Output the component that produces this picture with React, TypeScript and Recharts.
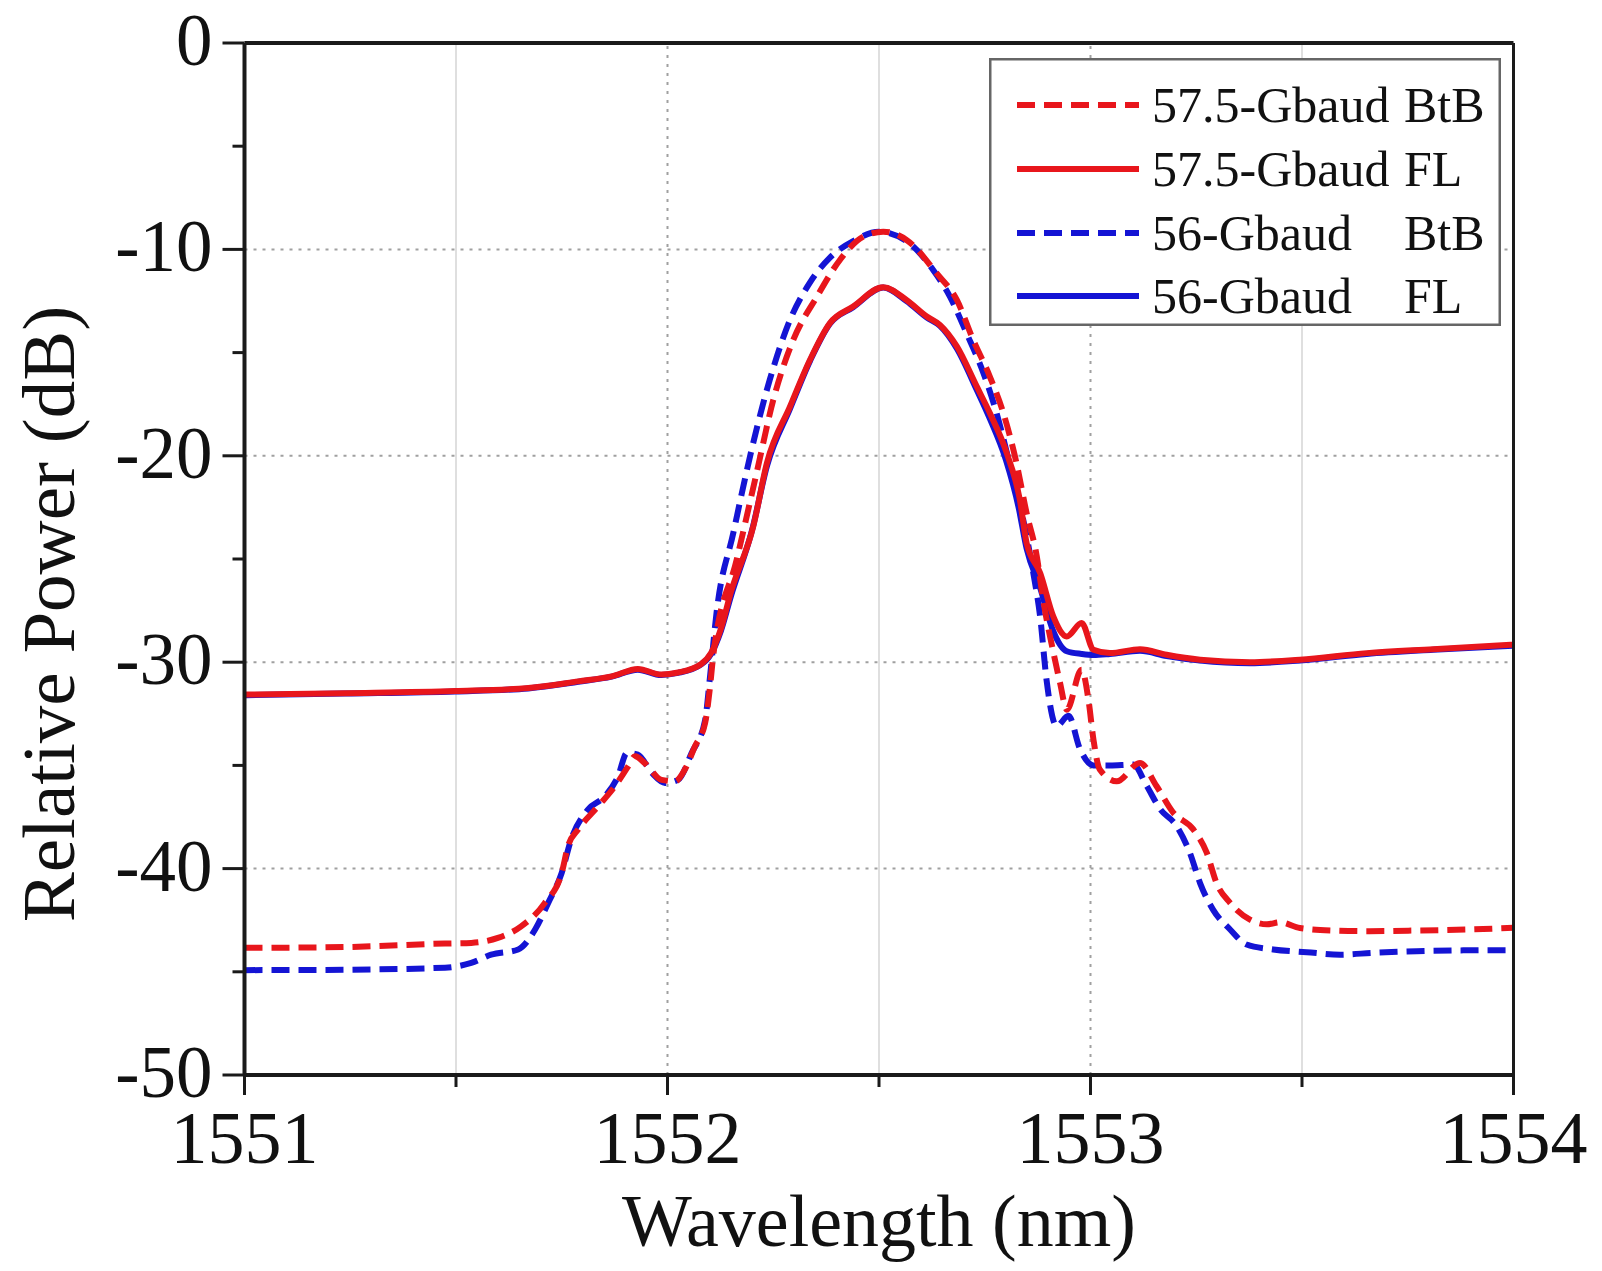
import React from 'react';
import { LineChart, Line, XAxis, YAxis, ReferenceLine, Legend } from 'recharts';

const RED = '#e8161c';
const BLUE = '#1414d4';
const FONT = '"Liberation Serif", "Times New Roman", serif';

// ---------- data (wavelength nm, relative power dB) ----------
const btb575Wl = [1551.0, 1551.238, 1551.474, 1551.536, 1551.599, 1551.654, 1551.71, 1551.75, 1551.765, 1551.789, 1551.836, 1551.876, 1551.907, 1551.923, 1551.947, 1551.986, 1552.018, 1552.041, 1552.065, 1552.089, 1552.1, 1552.108, 1552.164, 1552.211, 1552.25, 1552.297, 1552.353, 1552.408, 1552.463, 1552.51, 1552.565, 1552.636, 1552.684, 1552.723, 1552.762, 1552.794, 1552.825, 1552.849, 1552.873, 1552.888, 1552.912, 1552.928, 1552.944, 1552.979, 1552.995, 1553.007, 1553.022, 1553.062, 1553.117, 1553.156, 1553.196, 1553.243, 1553.275, 1553.298, 1553.33, 1553.377, 1553.417, 1553.448, 1553.495, 1553.574, 1553.653, 1553.771, 1553.889, 1554.0];
const btb575Db = [-43.84, -43.8, -43.63, -43.6, -43.36, -42.8, -41.66, -40.2, -38.9, -38.1, -36.98, -36.0, -35.05, -34.56, -34.9, -35.7, -35.77, -35.2, -34.07, -32.94, -31.3, -29.7, -25.0, -20.8, -17.3, -14.4, -12.3, -10.5, -9.38, -9.14, -9.54, -11.15, -12.45, -14.4, -16.16, -17.93, -20.35, -22.78, -24.87, -26.97, -29.5, -31.0, -32.3, -30.36, -31.8, -33.75, -35.2, -35.77, -34.88, -36.0, -37.3, -38.1, -39.24, -40.7, -41.66, -42.47, -42.7, -42.6, -42.88, -43.0, -43.03, -43.0, -42.95, -42.87];

const fl575Wl = [1551.0, 1551.238, 1551.498, 1551.671, 1551.789, 1551.868, 1551.93, 1551.985, 1552.025, 1552.079, 1552.103, 1552.126, 1552.15, 1552.203, 1552.235, 1552.29, 1552.337, 1552.384, 1552.439, 1552.51, 1552.565, 1552.613, 1552.644, 1552.684, 1552.731, 1552.762, 1552.802, 1552.833, 1552.849, 1552.881, 1552.912, 1552.944, 1552.979, 1553.007, 1553.046, 1553.117, 1553.18, 1553.259, 1553.377, 1553.495, 1553.653, 1553.81, 1554.0];
const fl575Db = [-31.57, -31.5, -31.4, -31.25, -30.93, -30.69, -30.33, -30.6, -30.5, -30.1, -29.55, -28.4, -26.6, -23.4, -20.35, -17.6, -15.35, -13.57, -12.77, -11.83, -12.45, -13.25, -13.66, -14.7, -16.64, -17.93, -19.87, -22.13, -24.23, -25.68, -27.78, -28.75, -28.1, -29.4, -29.56, -29.37, -29.64, -29.88, -30.0, -29.88, -29.56, -29.37, -29.15];

const btb56Wl = [1551.0, 1551.238, 1551.474, 1551.536, 1551.583, 1551.647, 1551.687, 1551.718, 1551.75, 1551.772, 1551.812, 1551.852, 1551.883, 1551.904, 1551.93, 1551.963, 1551.994, 1552.025, 1552.057, 1552.089, 1552.1, 1552.116, 1552.156, 1552.2, 1552.242, 1552.29, 1552.337, 1552.384, 1552.439, 1552.5, 1552.565, 1552.628, 1552.668, 1552.707, 1552.747, 1552.778, 1552.81, 1552.841, 1552.865, 1552.881, 1552.896, 1552.92, 1552.948, 1552.975, 1553.007, 1553.046, 1553.101, 1553.133, 1553.164, 1553.204, 1553.235, 1553.259, 1553.29, 1553.33, 1553.369, 1553.432, 1553.511, 1553.59, 1553.669, 1553.771, 1553.889, 1554.0];
const btb56Db = [-44.92, -44.9, -44.8, -44.57, -44.17, -43.92, -42.95, -41.66, -40.2, -38.6, -37.14, -36.5, -35.53, -34.4, -34.48, -35.37, -35.85, -35.7, -34.4, -32.8, -30.8, -27.6, -23.7, -19.6, -16.3, -13.4, -11.6, -10.4, -9.6, -9.15, -9.6, -11.0, -12.3, -14.06, -16.0, -17.93, -20.5, -23.1, -25.7, -27.8, -30.85, -33.1, -32.6, -34.2, -35.0, -35.0, -34.96, -36.0, -37.1, -37.95, -39.24, -40.7, -42.0, -42.95, -43.68, -43.92, -44.05, -44.17, -44.08, -44.0, -43.96, -43.95];

const fl56Wl = [1551.0, 1551.238, 1551.498, 1551.671, 1551.789, 1551.868, 1551.93, 1551.985, 1552.025, 1552.079, 1552.103, 1552.126, 1552.15, 1552.2, 1552.235, 1552.29, 1552.337, 1552.384, 1552.439, 1552.51, 1552.565, 1552.613, 1552.644, 1552.684, 1552.731, 1552.762, 1552.8, 1552.83, 1552.849, 1552.881, 1552.912, 1552.944, 1552.979, 1553.007, 1553.046, 1553.117, 1553.18, 1553.259, 1553.377, 1553.495, 1553.653, 1553.81, 1554.0];
const fl56Db = [-31.6, -31.52, -31.42, -31.27, -30.95, -30.7, -30.36, -30.62, -30.52, -30.12, -29.6, -28.5, -26.8, -23.6, -20.5, -17.7, -15.4, -13.6, -12.8, -11.85, -12.5, -13.3, -13.7, -14.8, -16.8, -18.2, -20.2, -22.5, -24.5, -26.4, -28.5, -29.47, -29.6, -29.65, -29.6, -29.45, -29.7, -29.92, -30.05, -29.92, -29.6, -29.4, -29.2];

const xTicks = [1551, 1551.5, 1552, 1552.5, 1553, 1553.5, 1554];
const yTicks = [0, -5, -10, -15, -20, -25, -30, -35, -40, -45, -50];
const gridDottedX = [1552, 1553];
const gridSolidX = [1551.5, 1552.5, 1553.5];
const gridDottedY = [-10, -20, -30, -40];

const pts = (wl: number[], db: number[]) => wl.map((w, i) => ({ wl: w, db: db[i] }));

const DASH = '18 9';

const series = [
  { key: 'b575', label: '57.5-Gbaud', tag: 'BtB', color: RED, dash: DASH, data: pts(btb575Wl, btb575Db) },
  { key: 'f575', label: '57.5-Gbaud', tag: 'FL', color: RED, dash: undefined, data: pts(fl575Wl, fl575Db) },
  { key: 'b56', label: '56-Gbaud', tag: 'BtB', color: BLUE, dash: DASH, data: pts(btb56Wl, btb56Db) },
  { key: 'f56', label: '56-Gbaud', tag: 'FL', color: BLUE, dash: undefined, data: pts(fl56Wl, fl56Db) },
];
const drawOrder = ['f56', 'b56', 'b575', 'f575'];

const XTick = (props: any) => {
  const { x, y, payload } = props;
  const major = Number.isInteger(payload.value);
  return (
    <g>
      <line x1={x} y1={y} x2={x} y2={y + (major ? 20 : 12)} stroke="#1a1a1a" strokeWidth={3} />
      {major && (
        <text x={x} y={y + 88} textAnchor="middle" fontFamily={FONT} fontSize={74} fill="#111">
          {payload.value}
        </text>
      )}
    </g>
  );
};

const YTick = (props: any) => {
  const { x, y, payload } = props;
  const major = payload.value % 10 === 0;
  return (
    <g>
      <line x1={x - (major ? 22 : 12)} y1={y} x2={x} y2={y} stroke="#1a1a1a" strokeWidth={3} />
      {major && (
        <text x={x - 32} y={y + 22} textAnchor="end" fontFamily={FONT} fontSize={73} fill="#111">
          {payload.value}
        </text>
      )}
    </g>
  );
};

const XLabel = (props: any) => {
  const vb = props.viewBox;
  return (
    <text x={vb.x + vb.width / 2} y={vb.y + 171} textAnchor="middle" fontFamily={FONT} fontSize={74} fill="#111">
      Wavelength (nm)
    </text>
  );
};

const YLabel = (props: any) => {
  const vb = props.viewBox;
  const cx = 74;
  const cy = vb.y + vb.height / 2 + 55;
  return (
    <text x={cx} y={cy} transform={`rotate(-90, ${cx}, ${cy})`} textAnchor="middle" fontFamily={FONT} fontSize={75} fill="#111">
      Relative Power (dB)
    </text>
  );
};

const LegendBox = () => {
  const rowY = [47, 111, 175, 238];
  return (
    <svg width={512} height={268} style={{ display: 'block' }}>
      <rect x={1.25} y={1.25} width={509.5} height={265.5} fill="#fff" stroke="#666" strokeWidth={2.5} />
      {series.map((s, i) => (
        <g key={s.key}>
          <line x1={28} x2={150} y1={rowY[i]} y2={rowY[i]} stroke={s.color} strokeWidth={6} strokeDasharray={s.dash} />
          <text x={163} y={rowY[i] + 17} fontFamily={FONT} fontSize={50} fill="#111">{s.label}</text>
          <text x={415} y={rowY[i] + 17} fontFamily={FONT} fontSize={50} fill="#111">{s.tag}</text>
        </g>
      ))}
    </svg>
  );
};

export default function App() {
  return (
    <div style={{ position: 'absolute', left: 0, top: 0, background: '#fff' }}>
      <LineChart width={1602} height={1271} margin={{ top: 43, right: 88.5, bottom: 76, left: 0 }}>
        <XAxis
          dataKey="wl"
          type="number"
          domain={[1551, 1554]}
          ticks={xTicks}
          interval={0}
          height={120}
          axisLine={{ stroke: '#1a1a1a', strokeWidth: 4 }}
          tickLine={false}
          tickSize={0}
          tickMargin={0}
          tick={XTick}
          label={{ content: XLabel }}
        />
        <YAxis
          dataKey="db"
          type="number"
          domain={[-50, 0]}
          ticks={yTicks}
          interval={0}
          width={244.5}
          axisLine={{ stroke: '#1a1a1a', strokeWidth: 4 }}
          tickLine={false}
          tickSize={0}
          tickMargin={0}
          tick={YTick}
          label={{ content: YLabel }}
        />
        {gridSolidX.map((v) => (
          <ReferenceLine key={'gs' + v} x={v} stroke="#d4d4d4" strokeWidth={1.5} />
        ))}
        {gridDottedX.map((v) => (
          <ReferenceLine key={'gdx' + v} x={v} stroke="#a0a0a0" strokeWidth={2} strokeDasharray="3 6" />
        ))}
        {gridDottedY.map((v) => (
          <ReferenceLine key={'gdy' + v} y={v} stroke="#a0a0a0" strokeWidth={2} strokeDasharray="3 6" />
        ))}
        {drawOrder.map((k) => {
          const s = series.find((q) => q.key === k)!;
          return (
            <Line
              key={s.key}
              data={s.data}
              dataKey="db"
              name={`${s.label} ${s.tag}`}
              type="monotone"
              stroke={s.color}
              strokeWidth={6}
              strokeDasharray={s.dash}
              dot={false}
              activeDot={false}
              isAnimationActive={false}
            />
          );
        })}
        <ReferenceLine y={0} stroke="#1a1a1a" strokeWidth={4} />
        <ReferenceLine x={1554} stroke="#1a1a1a" strokeWidth={3} />
        <Legend
          layout="vertical"
          align="center"
          verticalAlign="middle"
          wrapperStyle={{ position: 'absolute', left: 989, top: 58, width: 512, height: 268 }}
          content={() => <LegendBox />}
        />
      </LineChart>
    </div>
  );
}
